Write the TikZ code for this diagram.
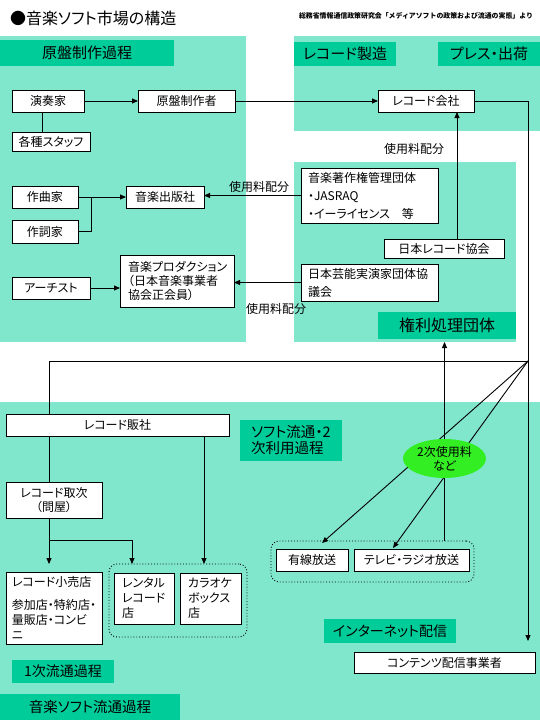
\documentclass[tikz,border=0pt]{standalone}
\usepackage{fontspec}
\setmainfont{Noto Sans CJK JP}[RawFeature=+palt]
\newfontfamily\jpfull{Noto Sans CJK JP}
\usetikzlibrary{arrows.meta,shapes.geometric,calc}
\definecolor{hatch}{RGB}{128,230,204}
\definecolor{solidg}{RGB}{0,204,153}
\definecolor{limeg}{RGB}{51,238,34}
\newcommand\fsz[2]{\fontsize{#1}{#2}\selectfont}
\pgfdeclarelayer{back}
\pgfdeclarelayer{mid}
\pgfsetlayers{back,mid,main}
\begin{document}
\begin{tikzpicture}[x=1pt,y=-1pt,
  region/.style={fill=hatch,draw=none,inner sep=0,outer sep=0,anchor=north west},
  lab/.style={fill=solidg,draw=none,inner sep=0,outer sep=0,anchor=north west,font=\fsz{15}{17}},
  box/.style={draw=black,fill=white,line width=0.9pt,inner sep=0,outer sep=0,font=\fsz{12}{14}},
  conn/.style={line width=0.9pt},
  arr/.style={conn,-{Triangle[length=6pt,width=5pt]}},
  grp/.style={draw=black,dotted,line width=0.9pt,rounded corners=8pt,inner sep=0,outer sep=0},
  txt/.style={inner sep=0,outer sep=0,font=\fsz{12}{14}}
]
\useasboundingbox (0,0) rectangle (540,720);
\begin{pgfonlayer}{back}
\fill[white] (0,0) rectangle (540,720);
% regions
\node[region,minimum width=246pt,minimum height=306pt] (r1) at (0,36) {};
\node[region,minimum width=246pt,minimum height=95pt] (r2) at (294,36) {};
\node[region,minimum width=222pt,minimum height=180pt] (r3) at (294,162) {};
\node[region,minimum width=540pt,minimum height=318pt] (r4) at (0,402) {};
% labels
\node[lab,minimum width=174pt,minimum height=26pt] (l1) at (0,40) {原盤制作過程};
\node[lab,minimum width=102pt,minimum height=24pt] (l2) at (294,42) {レコード製造};
\node[lab,minimum width=102pt,minimum height=24pt] (l3) at (438,42) {プレス・出荷};
\node[lab,minimum width=138pt,minimum height=27pt,font=\fsz{16}{18}] (l4) at (378,312) {権利処理団体};
\node[lab,minimum width=102pt,minimum height=41pt,align=left,font=\fsz{14.5}{16}] (l5) at (240,420) {ソフト流通・2\\次利用過程};
\node[lab,minimum width=102pt,minimum height=23pt,font=\fsz{14}{16}] (l6) at (12,660) {1次流通過程};
\node[lab,minimum width=180pt,minimum height=26pt,font=\fsz{14.5}{16}] (l7) at (0,694) {音楽ソフト流通過程};
\node[lab,minimum width=132pt,minimum height=24pt,font=\fsz{14}{16}] (l8) at (324,619) {インターネット配信};
\end{pgfonlayer}

% title
\node[txt,anchor=west,font=\fsz{16}{18}] (title) at (10,18) {●音楽ソフト市場の構造};
\node[txt,anchor=east,font=\jpfull\bfseries\fsz{6.9}{8}] (src) at (533,16) {総務省情報通信政策研究会「メディアソフトの政策および流通の実態」より};

% boxes
\node[box,minimum width=72pt,minimum height=22pt] (ens) at (48,101) {演奏家};
\node[box,minimum width=78pt,minimum height=19pt] (staff) at (51,141.5) {各種スタッフ};
\node[box,minimum width=97pt,minimum height=22pt] (genban) at (186.5,101) {原盤制作者};
\node[box,minimum width=96pt,minimum height=22pt] (rc) at (426,101) {レコード会社};
\node[box,minimum width=66pt,minimum height=22pt] (sakkyoku) at (45,197) {作曲家};
\node[box,minimum width=66pt,minimum height=23pt] (sakushi) at (45,231.5) {作詞家};
\node[box,minimum width=78pt,minimum height=22pt] (pub) at (165,197) {音楽出版社};
\node[box,minimum width=78pt,minimum height=22pt] (artist) at (51,288) {アーチスト};
\node[box,minimum height=52pt,text width=98pt,inner xsep=8pt,align=left,font=\fsz{12}{14}] (prod) at (177,281) {音楽プロダクション\\（日本音楽事業者\\協会正会員）};
\node[box,minimum height=55pt,text width=123pt,inner xsep=7pt,align=left,font=\fsz{12}{18}] (mc) at (369.5,195.5) {音楽著作権管理団体\\・JASRAQ\\・イーライセンス　等};
\node[box,minimum width=120pt,minimum height=19pt] (jra) at (444,248.5) {日本レコード協会};
\node[box,minimum height=37pt,text width=123pt,inner xsep=7pt,align=left,font=\fsz{12}{18}] (geino) at (369.5,282.5) {日本芸能実演家団体協\\議会};
\node[box,minimum width=223pt,minimum height=22pt] (hansha) at (117.5,425) {レコード販社};
\node[box,minimum width=96pt,minimum height=36pt,align=center,font=\fsz{12}{14}] (toritsugi) at (54,500) {レコード取次\\（問屋）};
\node[box,minimum height=72pt,text width=84pt,inner xsep=6pt,align=left,font=\fsz{12}{15}] (kouri) at (54,608) {レコード小売店\\[8pt]参加店・特約店・\\量販店・コンビ\\ニ};
\node[box,minimum height=51pt,text width=44pt,inner xsep=8pt,align=left,font=\fsz{12}{15}] (rental) at (144,598.5) {レンタル\\レコード\\店};
\node[box,minimum height=51pt,text width=45pt,inner xsep=8pt,align=left,font=\fsz{12}{15}] (karaoke) at (210.5,598.5) {カラオケ\\ボックス\\店};
\node[grp,minimum width=138pt,minimum height=73pt] (grp1) at (178,600.5) {};
\node[box,minimum width=72pt,minimum height=22pt] (yusen) at (312,560) {有線放送};
\node[box,minimum width=115pt,minimum height=22pt] (tv) at (411.5,560) {テレビ・ラジオ放送};
\node[grp,minimum width=203pt,minimum height=41pt] (grp2) at (372.5,561.5) {};
\node[box,minimum width=181pt,minimum height=21pt] (cds) at (444.5,662.5) {コンテンツ配信事業者};
\node[ellipse,fill=limeg,minimum width=83pt,minimum height=39pt,inner sep=0,align=center,font=\fsz{12}{14}] (ell) at (444.5,458.5) {2次使用料\\など};

% fee labels
\node[txt] (fee1) at (414,149) {使用料配分};
\node[txt] (fee2) at (259,187) {使用料配分};
\node[txt] (fee3) at (276,309) {使用料配分};

\coordinate (hub) at (528,361);

\begin{pgfonlayer}{mid}
\draw[arr] (ens) -- (genban);
\draw[conn] ([xshift=-6pt]ens.south) -- ([xshift=-6pt]ens.south |- staff.north);
\draw[arr] (genban) -- (rc);
\draw[conn] (rc.east) -| (hub);
\draw[arr] (hub) -- ($(hub |- cds.north)+(0,-11)$);
\draw[arr] ([xshift=13pt]jra.north) -- ([xshift=13pt]jra.north |- rc.south);
\draw[arr] (sakkyoku) -- (pub);
\draw[conn] (sakushi.east) -| ([xshift=13pt]sakkyoku.east);
\draw[arr] (mc.west) -- (mc.west -| pub.east);
\draw[arr] (geino.west) -- (geino.west -| prod.east);
\draw[arr] (artist.east) -- (artist.east -| prod.west);
\draw[conn] (hub) -| ([xshift=43pt]hansha.north west);
\draw[conn] ([xshift=43pt]hansha.south west) -- ([xshift=43pt]toritsugi.north west);
\draw[arr] ([xshift=43pt]toritsugi.south west) -- ([xshift=43pt]toritsugi.south west |- grp1.north);
\draw[arr] ($([xshift=43pt]toritsugi.south west)+(0,22)$) -| ([xshift=18pt]rental.north west |- grp1.north);
\draw[arr] ([xshift=-25pt]hansha.south east) -- ([xshift=-25pt]hansha.south east |- grp1.north);
\draw[arr] (hub) -- ($(yusen.north)+(10,-6)$);
\draw[arr] (hub) -- ($(tv.north)+(-18.5,-1)$);
\draw[arr] (ell.center |- grp2.north) -- (ell.center |- r3.south);
\end{pgfonlayer}
\end{tikzpicture}
\end{document}
